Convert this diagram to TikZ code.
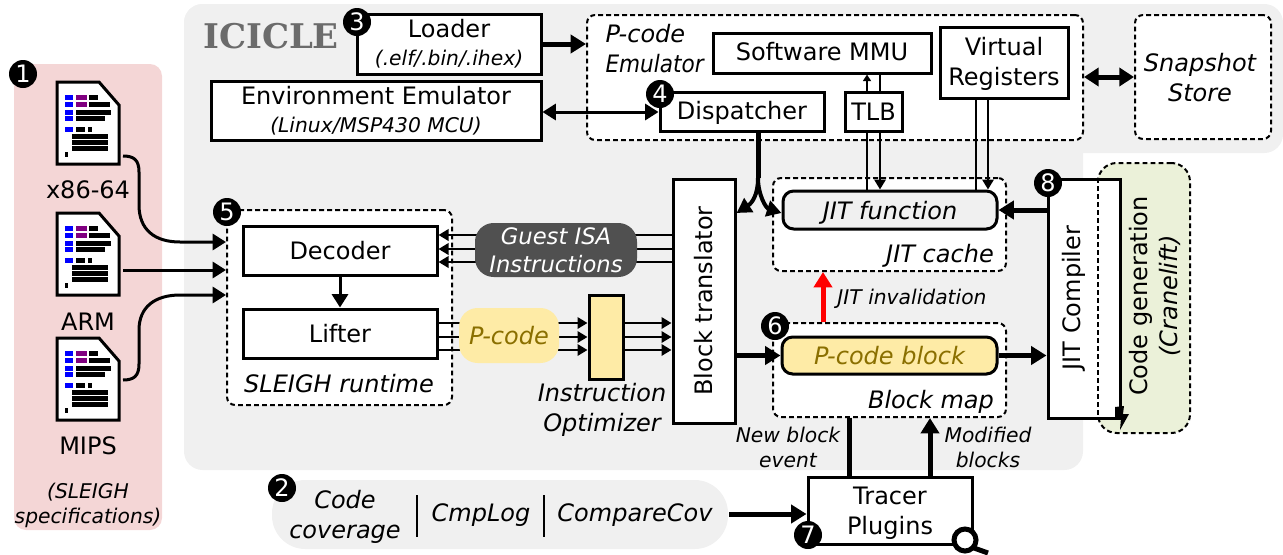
\documentclass[tikz,border=0pt]{standalone}
\usepackage{fontspec}
\setmainfont{DejaVu Sans}
\newfontfamily\iciclefont{DejaVu Serif}
\usetikzlibrary{arrows.meta}

\definecolor{bggray}{RGB}{240,240,240}
\definecolor{bgpink}{RGB}{244,214,214}
\definecolor{bggreen}{RGB}{235,241,217}
\definecolor{pyellow}{RGB}{254,235,166}
\definecolor{ptext}{RGB}{138,111,0}
\definecolor{pdark}{RGB}{80,80,80}
\definecolor{iblue}{RGB}{0,0,255}
\definecolor{ipurple}{RGB}{128,0,128}

\newcommand{\bigf}{\fontsize{18}{22.5}\selectfont}
\newcommand{\smallf}{\fontsize{15.2}{18.75}\selectfont\itshape}

\tikzset{
	every picture/.style={line width=0.75pt},
	dims/.style 2 args={minimum width=#1*0.75pt,minimum height=#2*0.75pt,inner sep=0pt},
	box/.style={draw,line width=2.25pt,fill=white,font=\bigf,align=center},
	dashbox/.style={draw,line width=1.5pt,dash pattern=on 3.6pt off 2.4pt,fill=white,rounded corners=6pt},
	pill/.style={rounded corners=#1,font=\bigf\itshape,align=center,inner sep=0pt},
	txt/.style={font=\bigf,align=center,inner sep=0pt},
	itxt/.style={font=\bigf\itshape,align=center,inner sep=0pt},
	stxt/.style={font=\smallf,align=center,inner sep=0pt},
	badge/.style={circle,fill=black,text=white,minimum size=21pt,inner sep=0pt,font=\fontsize{18}{18}\selectfont},
	thk/.style={line width=3.75pt,-{Triangle[length=11.5pt,width=13.5pt]}},
	med/.style={line width=2.25pt,-{Triangle[length=10pt,width=12pt]}},
	thn/.style={line width=1.75pt,-{Triangle[length=7.5pt,width=8.5pt]}},
	thnup/.style={line width=1.75pt,-{Triangle[length=5pt,width=6pt]}},
}

\begin{document}
\begin{tikzpicture}[x=0.75pt,y=0.75pt,yscale=-1,xscale=1]
	\useasboundingbox (0,0) rectangle (1283,554);

	% Backgrounds
	\fill [bggray,rounded corners=14pt] (184,4) rectangle (1283,153);
	\fill [bggray,rounded corners=14pt] (184,4) rectangle (1083,470);
	\fill [bgpink,rounded corners=9pt] (14,64) rectangle (162,530);
	\fill [bggray,rounded corners=25pt] (272,480) rectangle (728,549);
	\node [draw,line width=1.5pt,dash pattern=on 3.6pt off 2.4pt,fill=bggreen,rounded corners=14pt,dims={92}{270}] (codegen) at (1144,298) {};

	% Source files
	\foreach \ic/\iy in {x86/82,arm/213,mips/338}{
		\begin{scope}[shift={(57,\iy)}]
			\draw [line width=2.25pt,fill=white] (0,0) -- (42,0) -- (62,23) -- (62,82) -- (0,82) -- cycle;
			\foreach \rx/\ry/\rl/\rc in {8/13/8/iblue,19/13/11/ipurple,32/13/9/black,8/20/8/iblue,19/20/11/ipurple,32/20/21/black,8/28/8/iblue,19/28/35/black,8/34/8/iblue,19/34/29/black,8/45/8/iblue,19/45/9/black,31/45/4/black,15/52/36/black,15/58/36/black,15/64/36/black,8/70/3/black}
				\fill [\rc] (\rx,\ry) rectangle ++(\rl,4.6);
			\node [dims={62}{82},outer sep=3pt] (\ic) at (31,41) {};
		\end{scope}
	}
	\node [txt] (x86txt) at (88,190) {x86-64};
	\node [txt] (armtxt) at (88,322) {ARM};
	\node [txt] (mipstxt) at (88,446) {MIPS};
	\node [stxt] (sleightxt) at (88,505) {(SLEIGH\\specifications)};

	% Text Node
	\node [font=\iciclefont\bfseries\fontsize{25.5}{25.5}\selectfont,text=black!58,inner sep=0pt] (icicle) at (271,36) {ICICLE};

	% Emulator
	\node [dashbox,dims={496}{125}] (emu) at (835,77.5) {};
	\node [dashbox,dims={136}{124}] (snap) at (1203,77) {};
	\node [itxt,align=left,anchor=west] (emutxt) at (605,49) {P-code\\\scalebox{0.9}[1]{Emulator}};
	\node [itxt] (snaptxt) at (1200,78) {Snapshot\\Store};
	\node [box,dims={184}{60}] (loader) at (449,44) {Loader\\[-1.5pt]{\smallf (.elf/.bin/.ihex)}};
	\node [box,dims={330}{59}] (env) at (376,110.5) {Environment Emulator\\[-1.5pt]{\smallf (Linux/MSP430 MCU)}};
	\node [box,dims={218}{40},text height=15pt,text depth=3.6pt] (mmu) at (822,53) {Software MMU};
	\node [box,dims={128}{71}] (vreg) at (1004,62.5) {};
	\node [txt] (vregtxt) at (1004,64) {Virtual\\Registers};
	\node [box,dims={164}{39},text height=15pt,text depth=3.6pt] (disp) at (742,111.5) {Dispatcher};
	\node [box,dims={57}{39}] (tlb) at (873.5,111.5) {TLB};

	% JIT cache
	\node [dashbox,dims={233}{93}] (jitc) at (889.5,224.5) {};
	\node [box,fill=bggray,rounded corners=8pt,font=\bigf\itshape,dims={214}{38},text height=16.5pt,text depth=2pt] (jitfn) at (890,210) {JIT function};
	\node [itxt] (jitctxt) at (940,256) {JIT cache};

	% Block map
	\node [dashbox,dims={233}{94}] (bmap) at (889.5,370) {};
	\node [box,fill=pyellow,text=ptext,rounded corners=8pt,font=\bigf\itshape,dims={215}{37}] (pblock) at (889.5,355.5) {P-code block};
	\node [itxt] (bmaptxt) at (931,402) {Block map};

	% SLEIGH runtime
	\node [dashbox,dims={225}{195}] (sleigh) at (339.5,307.5) {};
	\node [box,dims={194}{49}] (dec) at (340,250.5) {Decoder};
	\node [box,dims={194}{49}] (lift) at (340,333.5) {Lifter};
	\node [itxt] (sleightxt2) at (339,384) {SLEIGH runtime};

	% Translator, optimizer, compiler
	\node [box,dims={62}{244}] (trans) at (704,301) {\rotatebox{90}{Block translator}};
	\node [box,fill=pyellow,dims={34}{84}] (opt) at (606,337) {};
	\node [itxt] (opttxt) at (602,410) {Instruction\\Optimizer};
	\node [box,dims={72}{239}] (comp) at (1084,298.5) {};
	\draw [line width=1.5pt,dash pattern=on 3.6pt off 2.4pt] (1098,178) -- (1098,419);
	\node [txt,rotate=90] (comptxt) at (1074,298) {JIT Compiler};
	\node [txt,rotate=90] (codetxt) at (1155,296) {Code generation\\\textit{(Cranelift)}};
	\fill (1115,407) -- (1124,406) -- (1123,414) -- (1129,414) -- (1120,430) -- (1121,418) -- (1115,418) -- cycle;

	% Tracer
	\node [box,dims={164}{67}] (tracer) at (890,510.5) {};
	\node [txt] (tracertxt) at (890,513) {Tracer\\Plugins};
	\draw [line width=3.75pt,fill=white] (965,540) circle (11);
	\draw [line width=3.75pt] (974,548) -- (988,553);

	% Connectors: files to SLEIGH
	\draw [med] (x86.east |- 0,156) .. controls (134,156) and (139,160) .. (139,172) -- (139,205) .. controls (139,230) and (155,242) .. (180,242) -- (sleigh.west |- 0,242);
	\draw [med] (arm.east |- 0,270) -- (sleigh.west |- 0,270);
	\draw [med] (mips.east |- 0,380) .. controls (134,380) and (139,376) .. (139,364) -- (139,330) .. controls (139,307) and (155,295) .. (180,295) -- (sleigh.west |- 0,295);

	% Connectors: top row
	\draw [thk] (loader.east) -- (emu.west |- loader.east);
	\draw [line width=2.25pt,{Triangle[length=10pt,width=12pt]}-{Triangle[length=10pt,width=12pt]}] (env.east |- 0,112) -- (disp.west |- 0,112);
	\draw [line width=3.75pt,{Triangle[length=11pt,width=13.5pt]}-{Triangle[length=11pt,width=13.5pt]}] (emu.east |- 0,77) -- (snap.west |- 0,77);
	\draw [thnup] (tlb.north -| 867,0) -- (mmu.south -| 867,0);
	\draw [line width=1.75pt] (tlb.north -| 880,0) -- (mmu.south -| 880,0);
	\draw [line width=1.75pt] (tlb.south -| 867,0) -- (jitfn.north -| 867,0);
	\draw [thn] (tlb.south -| 880,0) -- (jitfn.north -| 880,0);
	\draw [line width=1.75pt] (vreg.south -| 976,0) -- (jitfn.north -| 976,0);
	\draw [thn] (vreg.south -| 988,0) -- (jitfn.north -| 988,0);

	% Connectors: dispatcher fork
	\coordinate (fork) at (758,178);
	\draw [line width=3.75pt] (disp.south -| fork) -- (fork);
	\draw [line width=3pt,-{Triangle[length=11pt,width=12pt]}] (fork) .. controls (758,195) and (752,203) .. (trans.east |- 0,213);
	\draw [line width=3pt,-{Triangle[length=11pt,width=12pt]}] (fork) .. controls (758,195) and (766,208) .. (jitfn.west |- 0,213);

	% Connectors: decoder, lifter, instructions
	\draw [med] (dec) -- (lift);
	\foreach \yy in {235,249,262}
		\draw [thn] (trans.west |- 0,\yy) -- (dec.east |- 0,\yy);
	\node [pill=14pt,fill=pdark,text=white,dims={162}{54},font=\fontsize{17}{21}\selectfont\itshape] (guest) at (556,250) {Guest ISA\\Instructions};
	\foreach \yy in {323,337,350}{
		\draw [thn] (lift.east |- 0,\yy) -- (opt.west |- 0,\yy);
		\draw [thn] (opt.east |- 0,\yy) -- (trans.west |- 0,\yy);
	}
	\node [pill=14pt,fill=pyellow,text=ptext,dims={100}{55}] (pcode) at (509,335.5) {P-code};

	% Connectors: JIT path
	\draw [thk] (trans.east |- pblock.west) -- (pblock.west);
	\draw [thk] (pblock.east) -- (comp.west |- pblock.east);
	\draw [thk] (comp.west |- jitfn.east) -- (jitfn.east);
	\draw [thk,red] (bmap.north -| 823,0) -- (jitc.south -| 823,0);
	\node [stxt] (invtxt) at (912,299) {JIT invalidation};

	% Connectors: tracer
	\draw [line width=3.75pt] (tracer.north -| 849,0) -- (bmap.south -| 849,0);
	\draw [thk] (tracer.north -| 930,0) -- (bmap.south -| 930,0);
	\node [stxt] (newtxt) at (788,447) {New block\\event};
	\node [stxt] (modtxt) at (988,447) {Modified\\blocks};

	% Plugins
	\node [itxt] (covtxt) at (345,517) {Code\\coverage};
	\node [itxt] (cmptxt) at (481,515) {CmpLog};
	\node [itxt] (ccovtxt) at (635,515) {CompareCov};
	\coordinate (sepa) at (417,495);
	\coordinate (sepb) at (544,495);
	\draw [line width=1pt] (sepa) -- ++(0,42);
	\draw [line width=1pt] (sepb) -- ++(0,42);
	\draw [thk] (ccovtxt.east |- 0,514) ++(16,0) -- (tracer.west |- 0,514);

	% Badges
	\node [badge] (b1) at (23,74) {1};
	\node [badge] (b2) at (282,488) {2};
	\node [badge] (b3) at (357,22) {3};
	\node [badge] (b4) at (660,94) {4};
	\node [badge] (b5) at (227,212) {5};
	\node [badge] (b6) at (775,326) {6};
	\node [badge] (b7) at (808,535) {7};
	\node [badge] (b8) at (1048,183) {8};
\end{tikzpicture}
\end{document}
